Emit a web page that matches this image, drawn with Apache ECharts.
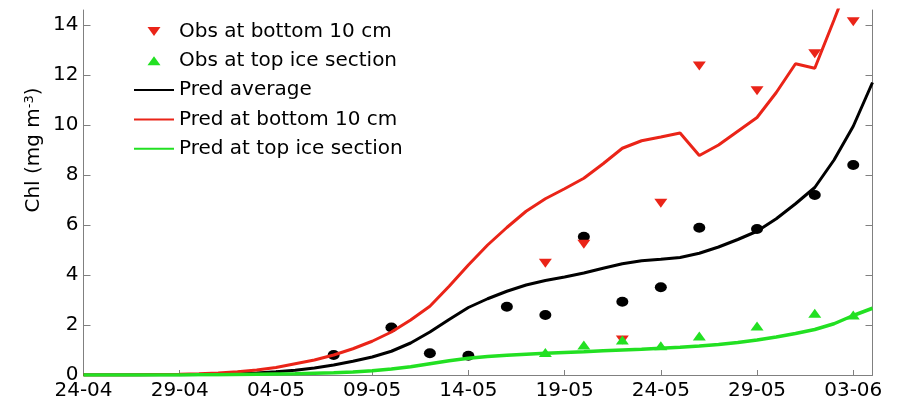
<!DOCTYPE html>
<html>
<head>
<meta charset="utf-8">
<style>
  html, body { margin: 0; padding: 0; background: #fff; }
  #chart { width: 898px; height: 402px; }
</style>
<script src="https://cdn.jsdelivr.net/npm/echarts@6/dist/echarts.min.js"></script>
</head>
<body>
<div id="chart"></div>
<script>
// Days since 24 April (model output is daily)
const modelDays = [0, 1, 2, 3, 4, 5, 6, 7, 8, 9, 10, 11, 12, 13, 14, 15, 16, 17, 18, 19, 20,
  21, 22, 23, 24, 25, 26, 27, 28, 29, 30, 31, 32, 33, 34, 35, 36, 37, 38, 39, 40, 41];

// Predicted chlorophyll (mg m-3)
const predAverage = [0, 0, 0, 0, 0.01, 0.01, 0.02, 0.03, 0.05, 0.08, 0.13, 0.19, 0.28, 0.4, 0.55,
  0.72, 0.95, 1.28, 1.72, 2.22, 2.7, 3.05, 3.35, 3.6, 3.78, 3.92, 4.08, 4.27, 4.45, 4.57, 4.63,
  4.7, 4.87, 5.12, 5.42, 5.75, 6.25, 6.85, 7.5, 8.6, 9.95, 11.7];
const predBottom = [0, 0, 0, 0.01, 0.02, 0.03, 0.05, 0.08, 0.13, 0.2, 0.3, 0.45, 0.6, 0.8, 1.05,
  1.35, 1.72, 2.2, 2.75, 3.55, 4.4, 5.2, 5.9, 6.55, 7.05, 7.45, 7.87, 8.45, 9.07, 9.37, 9.52,
  9.68, 8.78, 9.2, 9.75, 10.3, 11.3, 12.45, 12.27, 14.2, 16.2, 18.2];
const predTop = [0, 0, 0, 0, 0, 0, 0.01, 0.01, 0.02, 0.03, 0.04, 0.05, 0.07, 0.09, 0.12,
  0.17, 0.24, 0.33, 0.45, 0.57, 0.67, 0.74, 0.79, 0.83, 0.87, 0.9, 0.93, 0.97, 1.0, 1.03, 1.07,
  1.11, 1.16, 1.22, 1.3, 1.4, 1.52, 1.66, 1.82, 2.05, 2.38, 2.67];

// Observations
const obsAverageDays = [13, 16, 18, 20, 22, 24, 26, 28, 30, 32, 35, 38, 40];
const obsAverage = [0.8, 1.9, 0.87, 0.77, 2.73, 2.4, 5.53, 2.93, 3.51, 5.89, 5.84, 7.2, 8.4];
const obsLayerDays = [24, 26, 28, 30, 32, 35, 38, 40];
const obsBottom = [4.47, 5.23, 1.4, 6.87, 12.36, 11.37, 12.85, 14.13];
const obsTop = [0.9, 1.2, 1.4, 1.17, 1.56, 1.96, 2.47, 2.4];

// Axis ticks
const xTickDays = [0, 5, 10, 15, 20, 25, 30, 35, 40];
const xTickLabels = ['24-04', '29-04', '04-05', '09-05', '14-05', '19-05', '24-05', '29-05', '03-06'];
const yTicks = [0, 2, 4, 6, 8, 10, 12, 14];

const pair = (xs, ys) => xs.map((x, i) => [x, ys[i]]);

const RED = '#ea2418';
const GREEN = '#22e022';
const BLACK = '#000000';
const AXIS = '#808080';
const FONT = 'DejaVu Sans';

const TRI_DOWN = 'path://M0,0 L13,0 L6.5,9 Z';
const TRI_UP = 'path://M6.5,0 L13,9 L0,9 Z';

const chart = echarts.init(document.getElementById('chart'), null, { renderer: 'canvas' });

const yAxisBase = {
  type: 'value',
  min: 0,
  max: 14.6,
  splitLine: { show: false },
  axisLine: { show: true, lineStyle: { color: AXIS, width: 1 } },
  axisTick: { show: true, inside: true, length: 7, lineStyle: { color: AXIS }, customValues: yTicks }
};

// Line entries in the legend show only the stroke, no centre marker
const lineLegend = name => ({ name, itemStyle: { opacity: 0 } });

chart.setOption({
  animation: false,
  backgroundColor: '#ffffff',
  grid: { left: 83.5, right: 25.5, top: 10, bottom: 27, containLabel: false },
  xAxis: {
    type: 'value',
    min: 0,
    max: 41,
    splitLine: { show: false },
    axisLine: { show: true, onZero: false, lineStyle: { color: AXIS, width: 1 } },
    axisTick: { show: true, inside: true, length: 5, lineStyle: { color: AXIS }, customValues: xTickDays },
    axisLabel: {
      customValues: xTickDays,
      margin: 6,
      color: BLACK,
      fontFamily: FONT,
      fontSize: 20,
      formatter: v => xTickLabels[xTickDays.indexOf(v)] || ''
    }
  },
  yAxis: [
    Object.assign({}, yAxisBase, {
      position: 'left',
      axisLabel: {
        customValues: yTicks,
        margin: 5,
        color: BLACK,
        fontFamily: FONT,
        fontSize: 20,
        formatter: v => String(v)
      }
    }),
    Object.assign({}, yAxisBase, {
      position: 'right',
      axisLabel: { show: false }
    })
  ],
  legend: {
    orient: 'vertical',
    left: 128,
    top: 16.5,
    padding: 5,
    itemWidth: 40,
    itemHeight: 9,
    itemGap: 9.3,
    selectedMode: false,
    symbolKeepAspect: true,
    textStyle: { color: BLACK, fontFamily: FONT, fontSize: 20, lineHeight: 20 },
    data: [
      'Obs at bottom 10 cm',
      'Obs at top ice section',
      lineLegend('Pred average'),
      lineLegend('Pred at bottom 10 cm'),
      lineLegend('Pred at top ice section')
    ]
  },
  graphic: [{
    type: 'text',
    x: 34,
    y: 150,
    rotation: Math.PI / 2,
    silent: true,
    style: {
      text: '{a|Chl (mg m}{s|-3}{a|)}',
      align: 'center',
      verticalAlign: 'middle',
      fill: BLACK,
      rich: {
        a: { fontFamily: FONT, fontSize: 20, lineHeight: 22, fill: BLACK },
        s: { fontFamily: FONT, fontSize: 13, lineHeight: 22, verticalAlign: 'top', fill: BLACK }
      }
    }
  }],
  series: [
    {
      name: 'Pred average', type: 'line', symbol: 'none', smooth: false,
      data: pair(modelDays, predAverage),
      lineStyle: { color: BLACK, width: 3 }, itemStyle: { color: BLACK }
    },
    {
      name: 'Pred at bottom 10 cm', type: 'line', symbol: 'none', smooth: false,
      data: pair(modelDays, predBottom),
      lineStyle: { color: RED, width: 3 }, itemStyle: { color: RED }
    },
    {
      name: 'Pred at top ice section', type: 'line', symbol: 'none', smooth: false,
      data: pair(modelDays, predTop),
      lineStyle: { color: GREEN, width: 3.5 }, itemStyle: { color: GREEN }
    },
    {
      name: 'Obs average', type: 'scatter', symbol: 'circle', symbolSize: [12, 10],
      data: pair(obsAverageDays, obsAverage),
      itemStyle: { color: BLACK, opacity: 1 }
    },
    {
      name: 'Obs at bottom 10 cm', type: 'scatter', symbol: TRI_DOWN, symbolSize: [13, 9],
      data: pair(obsLayerDays, obsBottom),
      itemStyle: { color: RED, opacity: 1 }
    },
    {
      name: 'Obs at top ice section', type: 'scatter', symbol: TRI_UP, symbolSize: [13, 9],
      data: pair(obsLayerDays, obsTop),
      itemStyle: { color: GREEN, opacity: 1 }
    }
  ]
});
</script>
</body>
</html>
